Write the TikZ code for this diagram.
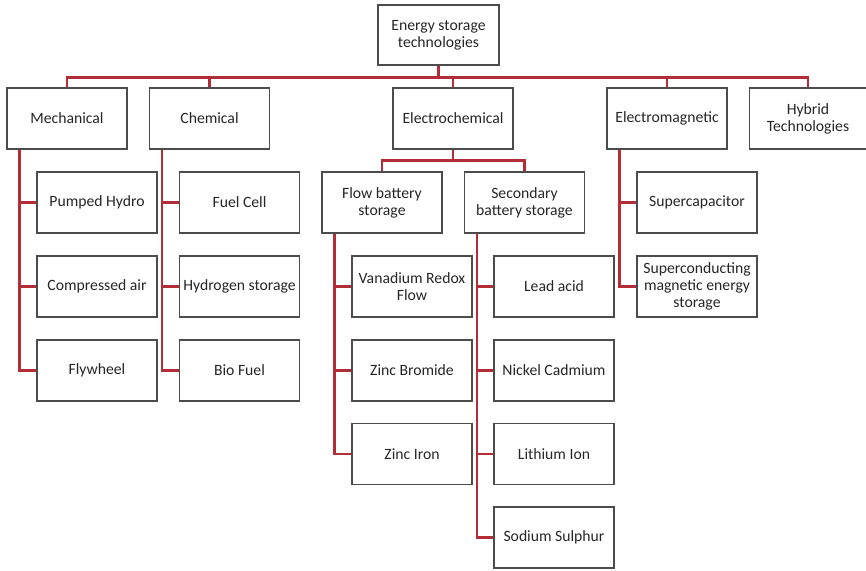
\documentclass[tikz,border=0pt]{standalone}
\usepackage{fontspec}
\setmainfont{Carlito}
\begin{document}
\begin{tikzpicture}[x=1pt,y=-1pt,
  box/.style={draw=black!70, line width=1.3pt, fill=white, align=center,
    minimum width=120pt, minimum height=61pt, inner sep=1pt,
    font=\fontsize{15.7}{17}\selectfont, text=black!85},
  link/.style={draw={rgb,255:red,178;green,45;blue,55}, line width=2.4pt}]
\useasboundingbox (0,0) rectangle (866,570);

% root and first level
\node[box, minimum width=121pt, minimum height=60pt] (root) at (438.5,35) {Energy storage\\technologies};
\node[box] (mech)  at (67,118.5)  {Mechanical};
\node[box] (chem)  at (209.5,118.5) {Chemical};
\node[box] (elec)  at (453,118.5) {Electrochemical};
\node[box] (emag)  at (667,118.5) {Electromagnetic};
\node[box, minimum width=117pt] (hyb) at (808,118.5) {Hybrid\\Technologies};

% mechanical branch
\node[box] (ph)  at (97,202.5) {Pumped Hydro};
\node[box] (ca)  at (97,286.5) {Compressed air};
\node[box] (fw)  at (97,370.5) {Flywheel};

% chemical branch
\node[box] (fc)  at (239.5,202.5) {Fuel Cell};
\node[box] (hs)  at (239.5,286.5) {Hydrogen storage};
\node[box] (bf)  at (239.5,370.5) {Bio Fuel};

% electrochemical branch
\node[box] (flow) at (382,202.5) {Flow battery\\storage};
\node[box] (sec)  at (524.5,202.5) {Secondary\\battery storage};
\node[box] (vrf)  at (412,286.5) {Vanadium Redox\\Flow};
\node[box] (zb)   at (412,370.5) {Zinc Bromide};
\node[box] (zi)   at (412,454) {Zinc Iron};
\node[box] (la)   at (554,286.5) {Lead acid};
\node[box] (nc)   at (554,370.5) {Nickel Cadmium};
\node[box] (li)   at (554,454) {Lithium Ion};
\node[box] (ns)   at (554,537.5) {Sodium Sulphur};

% electromagnetic branch
\node[box] (sc)   at (697,202.5) {Supercapacitor};
\node[box] (smes) at (697,286.5) {Superconducting\\magnetic energy\\storage};

% top bus
\coordinate (bus) at ([yshift=-12pt]root.south);
\draw[link] (root.south) -- (bus) -| (mech.north);
\draw[link] (bus) -| (chem.north);
\draw[link] (bus) -| (elec.north);
\draw[link] (bus) -| (emag.north);
\draw[link] (bus) -| (hyb.north);

% electrochemical sub-bus
\coordinate (ebus) at ([yshift=-11pt]elec.south);
\draw[link] (elec.south) -- (ebus) -| (flow.north);
\draw[link] (ebus) -| (sec.north);

% side trunks
\foreach \p/\c in {mech/ph, mech/ca, mech/fw,
                   chem/fc, chem/hs, chem/bf,
                   flow/vrf, flow/zb, flow/zi,
                   sec/la, sec/nc, sec/li, sec/ns,
                   emag/sc, emag/smes}
  \draw[link] ([xshift=13pt]\p.south west) |- (\c.west);
\end{tikzpicture}
\end{document}
